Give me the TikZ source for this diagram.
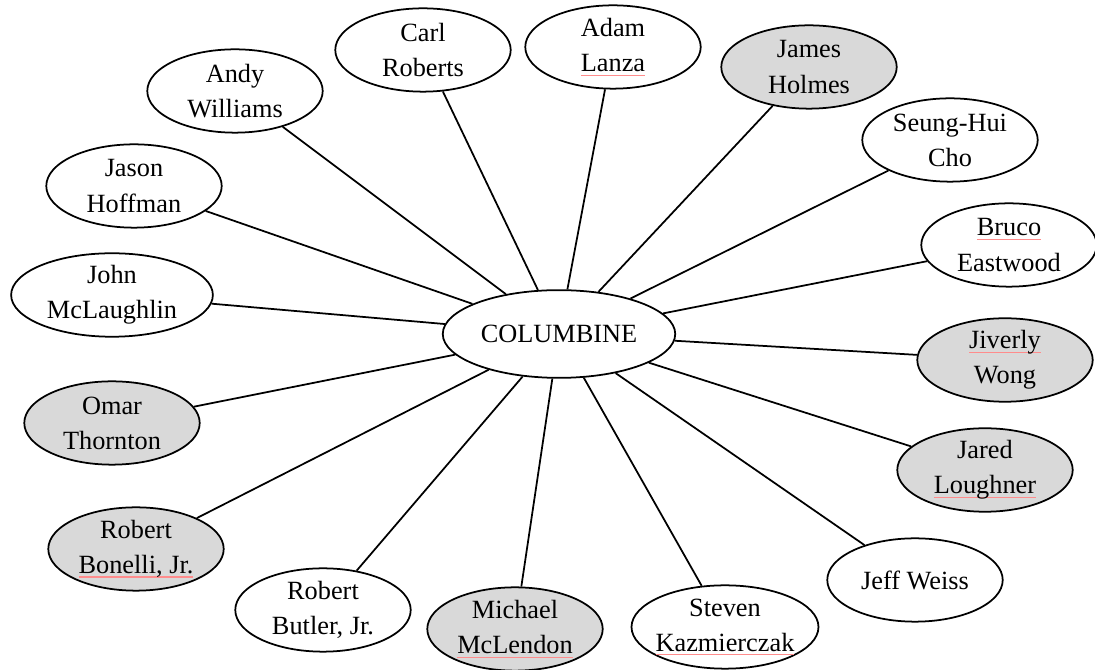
\documentclass[tikz,border=0pt]{standalone}
\usepackage{fontspec}
\setmainfont{Liberation Serif}
\usetikzlibrary{shapes.geometric}

\newcommand\spell[1]{{\setbox0\hbox{#1}\rlap{\color{red!45}\rule[-1.8pt]{\wd0}{0.5pt}}\box0}}

\tikzset{
	shooter/.style = {ellipse, draw, line width = 0.8pt, inner sep = 0pt, minimum width = 80pt, minimum height = 38pt, align = center, font = \fontsize{12pt}{16pt}\selectfont},
	grayshooter/.style = {shooter, fill = black!15},
	spoke/.style = {line width = 0.8pt},
}

\begin{document}
\begin{tikzpicture}[x = 0.456pt, y = -0.456pt]
	\useasboundingbox (0,0) rectangle (1095,670);
	
	\node [shooter, minimum width = 106pt, minimum height = 40pt] (col) at (559,334) {COLUMBINE};
	
	% top row
	\node [shooter] (andy) at (235,91) {Andy\\Williams};
	\node [shooter] (carl) at (423,50) {Carl\\Roberts};
	\node [shooter] (adam) at (613,47) {Adam\\\spell{Lanza}};
	\node [grayshooter] (james) at (809,67) {James\\Holmes};
	\node [shooter] (seung) at (950,140) {Seung-Hui\\Cho};
	
	% right side
	\node [shooter] (bruco) at (1009,245) {\spell{Bruco}\\Eastwood};
	\node [grayshooter] (jiverly) at (1005,360) {\spell{Jiverly}\\Wong};
	\node [grayshooter] (jared) at (985,470) {Jared\\\spell{Loughner}};
	\node [shooter] (jeff) at (915,580) {Jeff Weiss};
	
	% bottom row
	\node [shooter, inner xsep = -1.5pt] (steven) at (725,627) {Steven\\\spell{Kazmierczak}};
	\node [grayshooter] (michael) at (515,629) {Michael\\\spell{McLendon}};
	\node [shooter] (butler) at (323,610) {Robert\\Butler, Jr.};
	
	% left side
	\node [grayshooter] (bonelli) at (136,549) {Robert\\\spell{Bonelli, Jr.}};
	\node [grayshooter] (omar) at (112,423) {Omar\\Thornton};
	\node [shooter, minimum width = 92pt] (john) at (112,295) {John\\McLaughlin};
	\node [shooter] (jason) at (134,186) {Jason\\Hoffman};
	
	\foreach \n in {andy, carl, adam, james, seung, bruco, jiverly, jared, jeff, steven, michael, butler, bonelli, omar, john, jason}
		\draw [spoke] (col) -- (\n);
\end{tikzpicture}
\end{document}
